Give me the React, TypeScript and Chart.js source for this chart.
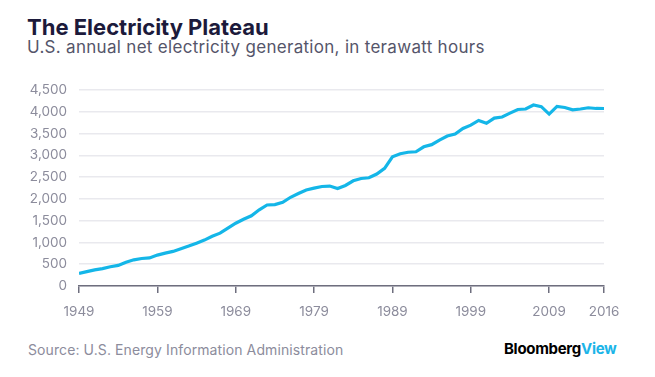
import React, { useEffect, useRef } from "react";
import { Chart, registerables } from "chart.js";

Chart.register(...registerables);

const years: number[] = [
  1949, 1950, 1951, 1952, 1953, 1954, 1955, 1956, 1957, 1958, 1959,
  1960, 1961, 1962, 1963, 1964, 1965, 1966, 1967, 1968, 1969,
  1970, 1971, 1972, 1973, 1974, 1975, 1976, 1977, 1978, 1979,
  1980, 1981, 1982, 1983, 1984, 1985, 1986, 1987, 1988, 1989,
  1990, 1991, 1992, 1993, 1994, 1995, 1996, 1997, 1998, 1999,
  2000, 2001, 2002, 2003, 2004, 2005, 2006, 2007, 2008, 2009,
  2010, 2011, 2012, 2013, 2014, 2015, 2016,
];

const generation: number[] = [
  291, 329, 371, 399, 443, 472, 547, 601, 632, 645, 710,
  756, 794, 855, 917, 984, 1055, 1144, 1214, 1329, 1442,
  1532, 1613, 1750, 1861, 1870, 1921, 2038, 2124, 2206, 2247,
  2286, 2295, 2241, 2310, 2416, 2470, 2487, 2572, 2704, 2967,
  3038, 3073, 3084, 3197, 3247, 3353, 3444, 3492, 3620, 3695,
  3802, 3737, 3858, 3883, 3971, 4055, 4065, 4157, 4119, 3950,
  4125, 4100, 4048, 4066, 4094, 4078, 4077,
];

const xTickYears: number[] = [1949, 1959, 1969, 1979, 1989, 1999, 2009, 2016];
const yTickValues: number[] = [0, 500, 1000, 1500, 2000, 2500, 3000, 3500, 4000, 4500];

const FONT = "Inter, 'Noto Sans', sans-serif";

export default function App() {
  const canvasRef = useRef<HTMLCanvasElement | null>(null);

  useEffect(() => {
    if (!canvasRef.current) return;
    const chart = new Chart(canvasRef.current, {
      type: "line",
      data: {
        datasets: [
          {
            data: years.map((y, i) => ({ x: y, y: generation[i] })),
            borderColor: "#14b6e8",
            borderWidth: 3.2,
            pointRadius: 0,
            tension: 0,
            fill: false,
          },
        ],
      },
      options: {
        animation: false,
        responsive: false,
        maintainAspectRatio: false,
        layout: { padding: { top: 18, right: 36, left: 0, bottom: 0 } },
        plugins: { legend: { display: false }, tooltip: { enabled: false } },
        scales: {
          x: {
            type: "linear",
            min: 1949,
            max: 2016,
            afterBuildTicks: (scale: any) => {
              scale.ticks = xTickYears.map((v) => ({ value: v }));
            },
            afterFit: (scale: any) => {
              scale.height = 44;
            },
            ticks: {
              autoSkip: false,
              maxRotation: 0,
              padding: 11,
              color: "#8c8c9c",
              font: { family: FONT, size: 13.5 },
              callback: (v: any) => String(v),
            },
            grid: {
              drawOnChartArea: false,
              drawTicks: true,
              tickLength: 7,
              color: "#6e6e7e",
              lineWidth: 1.5,
            },
            border: { display: true, color: "#6e6e7e", width: 1.5 },
          },
          y: {
            min: 0,
            max: 4500,
            afterBuildTicks: (scale: any) => {
              scale.ticks = yTickValues.map((v) => ({ value: v }));
            },
            afterFit: (scale: any) => {
              scale.width = 79;
            },
            ticks: {
              padding: 12,
              color: "#8c8c9c",
              font: { family: FONT, size: 13.5 },
              callback: (v: any) => Number(v).toLocaleString("en-US"),
            },
            grid: {
              drawTicks: false,
              color: "#e9e9ee",
              lineWidth: 1.5,
            },
            border: { display: false },
          },
        },
      },
    });
    return () => chart.destroy();
  }, []);

  return (
    <div
      style={{
        position: "absolute",
        left: 0,
        top: 0,
        width: 655,
        height: 377,
        background: "#fff",
        fontFamily: FONT,
        overflow: "hidden",
      }}
    >
      <div
        style={{
          position: "absolute",
          left: 27,
          top: 14,
          fontSize: 22,
          fontWeight: 700,
          color: "#1c1a3b",
          whiteSpace: "nowrap",
          lineHeight: "26px",
        }}
      >
        The Electricity Plateau
      </div>
      <div
        style={{
          position: "absolute",
          left: 27,
          top: 37,
          fontSize: 17,
          letterSpacing: 0.3,
          color: "#55556a",
          whiteSpace: "nowrap",
          lineHeight: "20px",
        }}
      >
        U.S. annual net electricity generation, in terawatt hours
      </div>
      <canvas
        ref={canvasRef}
        width={640}
        height={260}
        style={{ position: "absolute", left: 0, top: 70, width: 640, height: 260 }}
      />
      <div
        style={{
          position: "absolute",
          left: 28,
          top: 341,
          fontSize: 14,
          letterSpacing: 0.1,
          color: "#8c8c9c",
          whiteSpace: "nowrap",
          lineHeight: "18px",
        }}
      >
        Source: U.S. Energy Information Administration
      </div>
      <div
        style={{
          position: "absolute",
          left: 504,
          top: 340,
          fontSize: 15,
          fontWeight: 700,
          letterSpacing: -0.3,
          whiteSpace: "nowrap",
          lineHeight: "18px",
        }}
      >
        <span style={{ color: "#000" }}>Bloomberg</span>
        <span style={{ color: "#1cb5e8" }}>View</span>
      </div>
    </div>
  );
}
